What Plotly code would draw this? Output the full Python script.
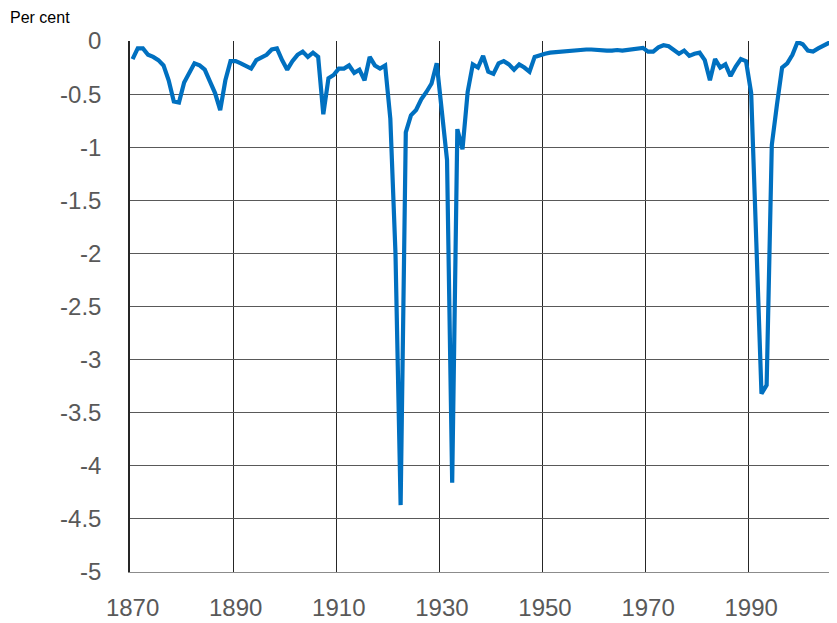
import plotly.graph_objects as go

years = list(range(1870, 2008))
values = [
    -0.17, -0.07, -0.07, -0.13, -0.15, -0.18, -0.23, -0.37, -0.57, -0.58,   # 1870-1879
    -0.39, -0.30, -0.21, -0.23, -0.27, -0.38, -0.49, -0.65, -0.37, -0.19,   # 1880-1889
    -0.19, -0.21, -0.24, -0.26, -0.18, -0.16, -0.13, -0.08, -0.07, -0.18,   # 1890-1899
    -0.27, -0.19, -0.13, -0.10, -0.15, -0.11, -0.15, -0.69, -0.35, -0.32,   # 1900-1909
    -0.26, -0.26, -0.23, -0.30, -0.27, -0.37, -0.15, -0.23, -0.26, -0.23,   # 1910-1919
    -0.73, -2.00, -4.37, -0.86, -0.70, -0.65, -0.55, -0.48, -0.40, -0.21,   # 1920-1929
    -0.70, -1.12, -4.16, -0.83, -1.02, -0.48, -0.22, -0.25, -0.14, -0.29,   # 1930-1939
    -0.31, -0.21, -0.19, -0.22, -0.27, -0.22, -0.25, -0.29, -0.15, -0.13,   # 1940-1949
    -0.12, -0.11, -0.105, -0.10, -0.10, -0.095, -0.09, -0.085, -0.08, -0.08,  # 1950-1959
    -0.085, -0.09, -0.09, -0.09, -0.085, -0.09, -0.085, -0.08, -0.075, -0.065,  # 1960-1969
    -0.10, -0.10, -0.06, -0.04, -0.05, -0.08, -0.12, -0.09, -0.14, -0.12,   # 1970-1979
    -0.11, -0.18, -0.37, -0.17, -0.25, -0.22, -0.33, -0.24, -0.17, -0.19,   # 1980-1989
    -0.49, -1.90, -3.32, -3.24, -0.98, -0.60, -0.25, -0.21, -0.13, -0.01,   # 1990-1999
    -0.03, -0.09, -0.10, -0.07, -0.04, -0.02, -0.01, -0.03,                 # 2000-2007
]

x_tick_vals = [1870, 1890, 1910, 1930, 1950, 1970, 1990, 2010]
x_tick_text = ["1870", "1890", "1910", "1930", "1950", "1970", "1990", "2010"]
x_grid_vals = [1869.5, 1889.5, 1909.5, 1929.5, 1949.5, 1969.5, 1989.5, 2009.5]
y_tick_vals = [0, -0.5, -1, -1.5, -2, -2.5, -3, -3.5, -4, -4.5, -5]
y_tick_text = ["0", "-0.5", "-1", "-1.5", "-2", "-2.5", "-3", "-3.5", "-4", "-4.5", "-5"]

fig = go.Figure()
fig.add_trace(go.Scatter(
    x=years, y=values, mode="lines",
    line=dict(color="#0070C0", width=4.2),
    hoverinfo="x+y", showlegend=False,
))

FONT = "Liberation Sans"
# the page body adds an 8px offset; the figure is sized so the plot area
# sits at 130..837 x 41..572 in the window
fig.update_layout(
    width=829, height=615,
    margin=dict(l=122, r=0, t=33, b=51),
    paper_bgcolor="white", plot_bgcolor="white",
    font=dict(family=FONT, size=24, color="#595959"),
    xaxis=dict(
        range=[1869.5, 2006.65],
        automargin=False,
        tickmode="array", tickvals=x_tick_vals, ticktext=x_tick_text,
        showgrid=False, zeroline=False,
        ticks="", ticklabelstandoff=14,
        showline=True, linecolor="#8c8c8c", linewidth=1,
        tickfont=dict(family=FONT, size=24, color="#595959"),
        minor=dict(tickmode="array", tickvals=x_grid_vals, showgrid=True,
                   gridcolor="#262626", gridwidth=1, ticks=""),
    ),
    yaxis=dict(
        range=[-5, 0],
        automargin=False,
        tickmode="array", tickvals=y_tick_vals, ticktext=y_tick_text,
        showgrid=True, gridcolor="#595959", gridwidth=1,
        zeroline=False, ticks="", ticklabelstandoff=22,
        showline=True, linecolor="#262626", linewidth=1.5,
        tickfont=dict(family=FONT, size=24, color="#595959"),
    ),
    annotations=[dict(
        text="Per cent", xref="paper", yref="paper",
        x=(0 - 122) / 707, y=1 + (33 + 1) / 531,
        xanchor="left", yanchor="top", showarrow=False,
        font=dict(family=FONT, size=16, color="#000000"),
    )],
)

fig.write_html("out.html")
